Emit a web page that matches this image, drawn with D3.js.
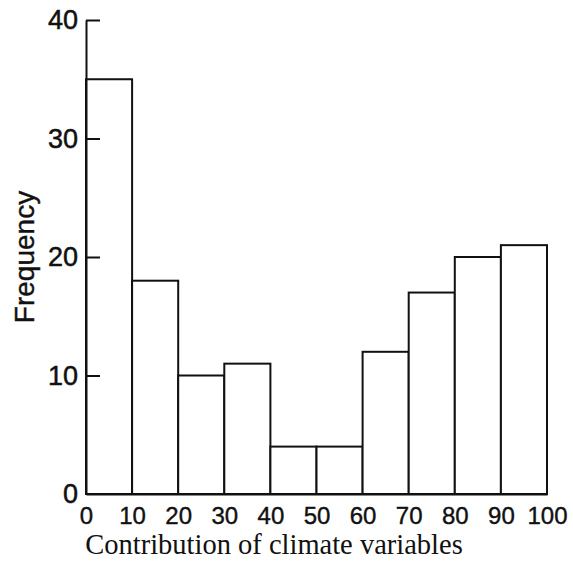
<!DOCTYPE html>
<html>
<head>
<meta charset="utf-8">
<script src="https://cdn.jsdelivr.net/npm/d3@7"></script>
<style>
  html, body { margin: 0; padding: 0; background: #fff; }
  svg { display: block; }
</style>
</head>
<body>
<script>
// Histogram bins (lower edges), frequencies and axis ticks
const binStarts = [0, 10, 20, 30, 40, 50, 60, 70, 80, 90];
const frequencies = [35, 18, 10, 11, 4, 4, 12, 17, 20, 21];
const binWidth = 10;
const xTicks = [0, 10, 20, 30, 40, 50, 60, 70, 80, 90, 100];
const yTicks = [0, 10, 20, 30, 40];

const W = 573, H = 575;
const svg = d3.select("body").append("svg").attr("width", W).attr("height", H);

const x = d3.scaleLinear().domain([0, 100]).range([86, 547]);
const y = d3.scaleLinear().domain([0, 40]).range([494, 20]);

const ink = "#111";
const sans = "'Liberation Sans', Arial, sans-serif";

// bars
svg.append("g").selectAll("rect")
  .data(binStarts.map((s, i) => ({ s, f: frequencies[i] })))
  .join("rect")
  .attr("x", d => x(d.s))
  .attr("y", d => y(d.f))
  .attr("width", d => x(d.s + binWidth) - x(d.s))
  .attr("height", d => y(0) - y(d.f))
  .attr("fill", "#fff")
  .attr("stroke", ink)
  .attr("stroke-width", 2);

// y axis: ticks pointing inward, labels on the left
const yAxis = d3.axisLeft(y).tickValues(yTicks).tickSizeInner(-14).tickSizeOuter(0).tickPadding(22);
const gy = svg.append("g").attr("transform", `translate(${x(0)},0)`).call(yAxis);
gy.select(".domain").attr("stroke", ink).attr("stroke-width", 2);
gy.selectAll(".tick line").attr("stroke", ink).attr("stroke-width", 2);
gy.selectAll(".tick text")
  .attr("fill", ink)
  .attr("stroke", ink).attr("stroke-width", 0.5)
  .attr("font-family", sans)
  .attr("font-size", 27)
  .attr("x", -8);
gy.selectAll(".tick").filter(d => d === 0).select("line").remove();

// x axis: labels only, baseline drawn as a line
const xAxis = d3.axisBottom(x).tickValues(xTicks).tickSize(0).tickPadding(13);
const gx = svg.append("g").attr("transform", `translate(0,${y(0)})`).call(xAxis);
gx.select(".domain").attr("stroke", ink).attr("stroke-width", 2);
gx.selectAll(".tick text")
  .attr("fill", ink)
  .attr("stroke", ink).attr("stroke-width", 0.4)
  .attr("font-family", sans)
  .attr("font-size", 24);

// axis titles
svg.append("text")
  .attr("x", 274).attr("y", 554)
  .attr("text-anchor", "middle")
  .attr("font-family", "'Liberation Serif', 'Times New Roman', serif")
  .attr("font-size", 28.5)
  .attr("fill", ink)
  .text("Contribution of climate variables");

svg.append("text")
  .attr("transform", "translate(34,257) rotate(-90)")
  .attr("text-anchor", "middle")
  .attr("font-family", sans)
  .attr("font-size", 28)
  .attr("fill", ink)
  .attr("stroke", ink).attr("stroke-width", 0.4)
  .text("Frequency");
</script>
</body>
</html>
